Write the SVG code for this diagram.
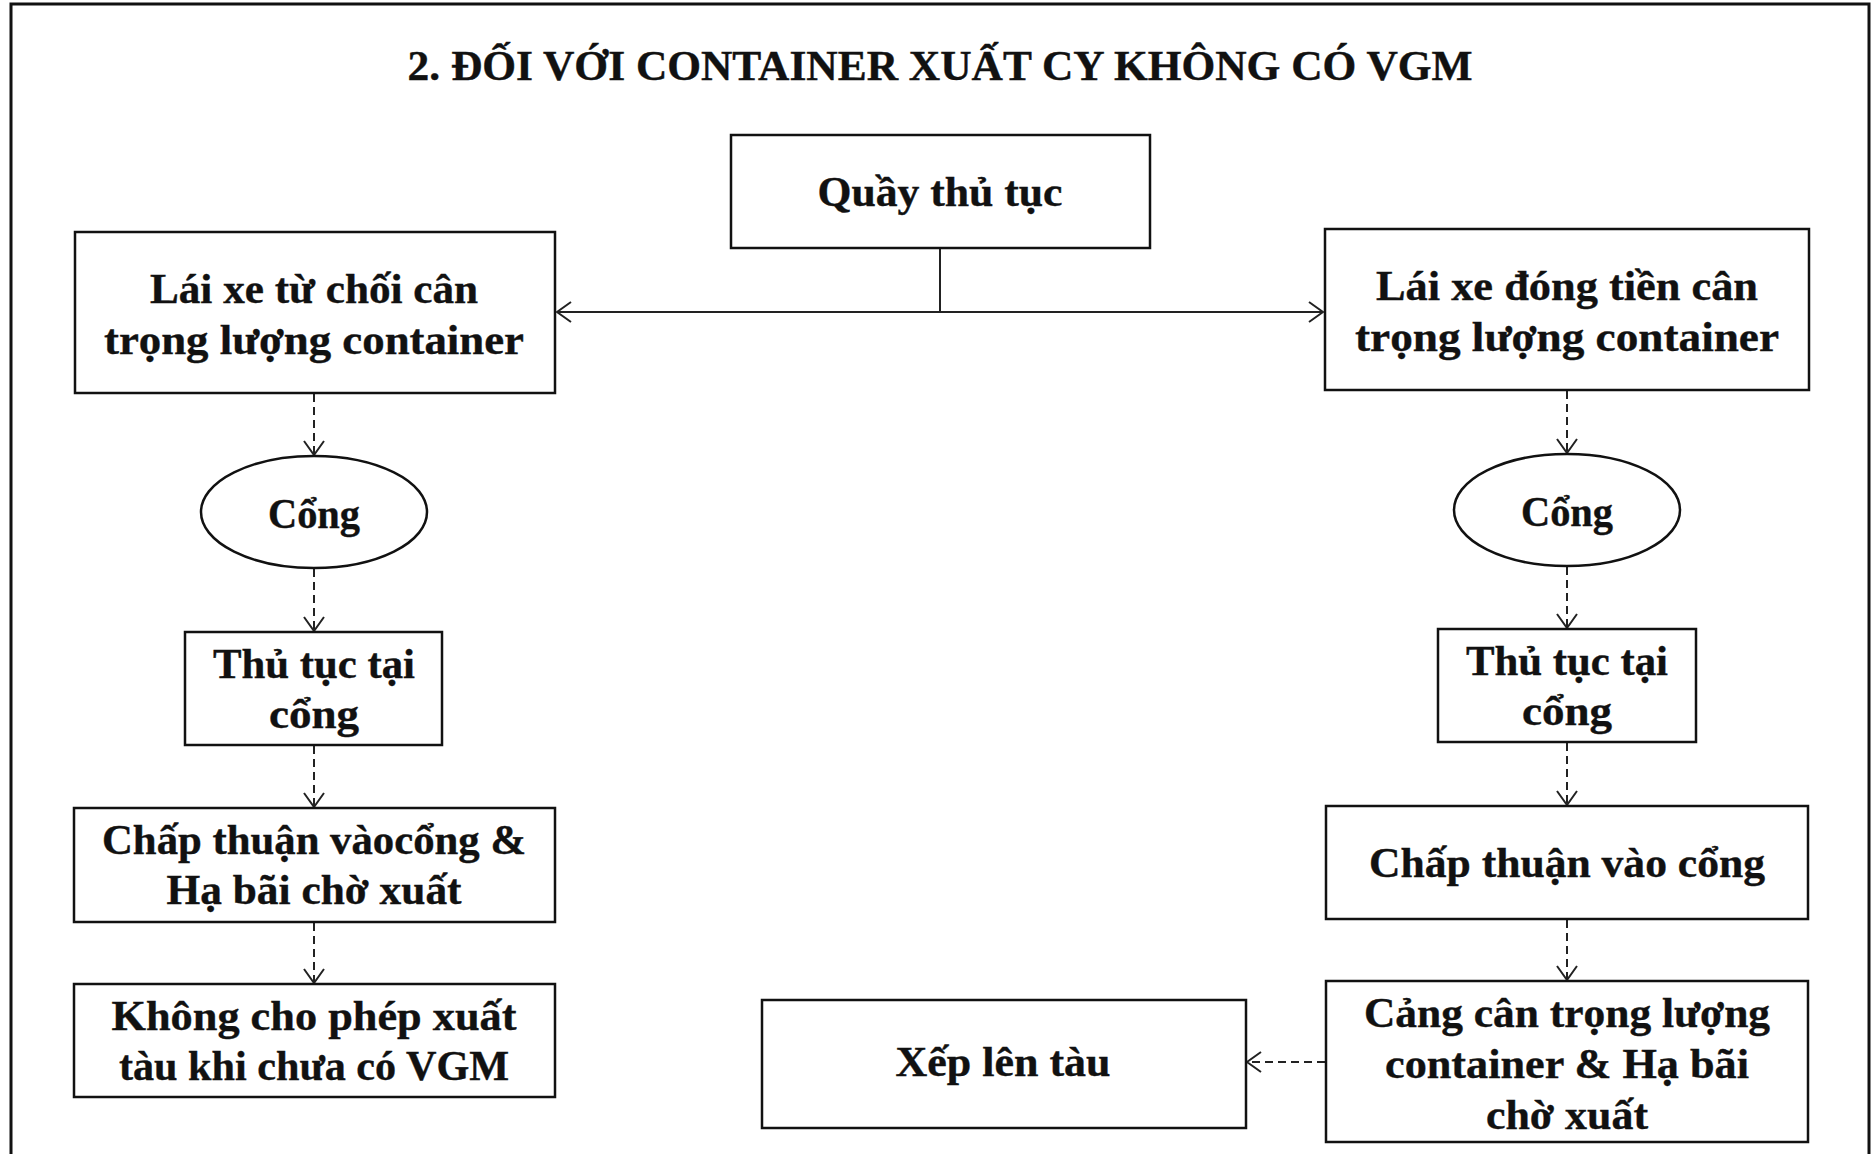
<svg xmlns="http://www.w3.org/2000/svg" width="1872" height="1154" viewBox="0 0 1872 1154">
<style>
.box{fill:#fff;stroke:#111;stroke-width:2.5}
.t{font-family:"Liberation Serif","DejaVu Serif",serif;font-weight:bold;font-size:43px;fill:#111;stroke:#111;stroke-width:0.4;text-anchor:middle}
.title{font-size:43px}
.solid{fill:none;stroke:#222;stroke-width:2}
.dash{fill:none;stroke:#222;stroke-width:2;stroke-dasharray:8 5}
</style>
<defs>
<marker id="arr" viewBox="0 0 16 22" refX="15" refY="11" markerWidth="16" markerHeight="22" markerUnits="userSpaceOnUse" orient="auto-start-reverse">
<path d="M1,1 L15,11 L1,21" fill="none" stroke="#222" stroke-width="2"/>
</marker>
</defs>
<rect width="1872" height="1154" fill="#fff"/>
<rect x="11" y="4" width="1858" height="1170" fill="none" stroke="#111" stroke-width="3"/>
<text class="t title" x="940" y="80" textLength="1065" lengthAdjust="spacingAndGlyphs">2. ĐỐI VỚI CONTAINER XUẤT CY KHÔNG CÓ VGM</text>

<g id="connectors">
<path class="solid" d="M940,248 V312"/>
<path class="solid" d="M557,312 H1323" marker-start="url(#arr)" marker-end="url(#arr)"/>
<path class="dash" d="M314,394 V455" marker-end="url(#arr)"/>
<path class="dash" d="M314,569 V631" marker-end="url(#arr)"/>
<path class="dash" d="M314,746 V807" marker-end="url(#arr)"/>
<path class="dash" d="M314,923 V983" marker-end="url(#arr)"/>
<path class="dash" d="M1567,391 V453" marker-end="url(#arr)"/>
<path class="dash" d="M1567,567 V628" marker-end="url(#arr)"/>
<path class="dash" d="M1567,743 V805" marker-end="url(#arr)"/>
<path class="dash" d="M1567,920 V980" marker-end="url(#arr)"/>
<path class="dash" d="M1325,1062 H1247" marker-end="url(#arr)"/>
</g>

<g id="quay">
<rect class="box" x="731" y="135" width="419" height="113"/>
<text class="t" x="940" y="206" textLength="245" lengthAdjust="spacingAndGlyphs">Quầy thủ tục</text>
</g>

<g id="left-driver">
<rect class="box" x="75" y="232" width="480" height="161"/>
<text class="t" x="314" y="303" textLength="328" lengthAdjust="spacingAndGlyphs">Lái xe từ chối cân</text>
<text class="t" x="314" y="354" textLength="420" lengthAdjust="spacingAndGlyphs">trọng lượng container</text>
</g>

<g id="right-driver">
<rect class="box" x="1325" y="229" width="484" height="161"/>
<text class="t" x="1567" y="300" textLength="382" lengthAdjust="spacingAndGlyphs">Lái xe đóng tiền cân</text>
<text class="t" x="1567" y="351" textLength="424" lengthAdjust="spacingAndGlyphs">trọng lượng container</text>
</g>

<g id="left-gate">
<ellipse class="box" cx="314" cy="512" rx="113" ry="56"/>
<text class="t" x="314" y="528" textLength="92" lengthAdjust="spacingAndGlyphs">Cổng</text>
</g>

<g id="right-gate">
<ellipse class="box" cx="1567" cy="510" rx="113" ry="56"/>
<text class="t" x="1567" y="526" textLength="92" lengthAdjust="spacingAndGlyphs">Cổng</text>
</g>

<g id="left-procedure">
<rect class="box" x="185" y="632" width="257" height="113"/>
<text class="t" x="314" y="678" textLength="202" lengthAdjust="spacingAndGlyphs">Thủ tục tại</text>
<text class="t" x="314" y="728" textLength="90" lengthAdjust="spacingAndGlyphs">cổng</text>
</g>

<g id="right-procedure">
<rect class="box" x="1438" y="629" width="258" height="113"/>
<text class="t" x="1567" y="675" textLength="202" lengthAdjust="spacingAndGlyphs">Thủ tục tại</text>
<text class="t" x="1567" y="725" textLength="90" lengthAdjust="spacingAndGlyphs">cổng</text>
</g>

<g id="left-approve">
<rect class="box" x="74" y="808" width="481" height="114"/>
<text class="t" x="314" y="854" textLength="424" lengthAdjust="spacingAndGlyphs">Chấp thuận vàocổng &amp;</text>
<text class="t" x="314" y="904" textLength="295" lengthAdjust="spacingAndGlyphs">Hạ bãi chờ xuất</text>
</g>

<g id="right-approve">
<rect class="box" x="1326" y="806" width="482" height="113"/>
<text class="t" x="1567" y="877" textLength="396" lengthAdjust="spacingAndGlyphs">Chấp thuận vào cổng</text>
</g>

<g id="left-deny">
<rect class="box" x="74" y="984" width="481" height="113"/>
<text class="t" x="314" y="1030" textLength="405" lengthAdjust="spacingAndGlyphs">Không cho phép xuất</text>
<text class="t" x="314" y="1080" textLength="390" lengthAdjust="spacingAndGlyphs">tàu khi chưa có VGM</text>
</g>

<g id="right-weigh">
<rect class="box" x="1326" y="981" width="482" height="161"/>
<text class="t" x="1567" y="1027" textLength="406" lengthAdjust="spacingAndGlyphs">Cảng cân trọng lượng</text>
<text class="t" x="1567" y="1078" textLength="364" lengthAdjust="spacingAndGlyphs">container &amp; Hạ bãi</text>
<text class="t" x="1567" y="1129" textLength="162" lengthAdjust="spacingAndGlyphs">chờ xuất</text>
</g>

<g id="load-ship">
<rect class="box" x="762" y="1000" width="484" height="128"/>
<text class="t" x="1003" y="1076" textLength="215" lengthAdjust="spacingAndGlyphs">Xếp lên tàu</text>
</g>
</svg>
